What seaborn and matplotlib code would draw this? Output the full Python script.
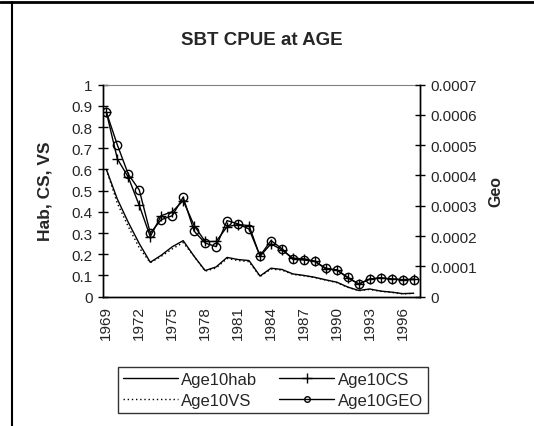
import numpy as np
import matplotlib
matplotlib.use('Agg')
import matplotlib.pyplot as plt
import seaborn as sns
from matplotlib.lines import Line2D

years = list(range(1969, 1998))
hab = [0.60, 0.46, 0.35, 0.25, 0.162, 0.195, 0.235, 0.264, 0.19, 0.123,
       0.14, 0.185, 0.175, 0.17, 0.097, 0.134, 0.128, 0.107, 0.10, 0.091,
       0.079, 0.068, 0.045, 0.029, 0.036, 0.026, 0.021, 0.014, 0.016]
vs = [0.60, 0.44, 0.33, 0.23, 0.16, 0.19, 0.225, 0.255, 0.19, 0.12,
      0.135, 0.18, 0.17, 0.165, 0.095, 0.13, 0.125, 0.105, 0.098, 0.09,
      0.078, 0.066, 0.044, 0.028, 0.034, 0.025, 0.02, 0.013, 0.015]
cs = [0.87, 0.65, 0.563, 0.43, 0.283, 0.382, 0.40, 0.453, 0.335, 0.26,
      0.26, 0.33, 0.34, 0.335, 0.19, 0.249, 0.22, 0.181, 0.178, 0.167,
      0.13, 0.126, 0.088, 0.06, 0.083, 0.088, 0.083, 0.08, 0.083]
geo = [0.000609, 0.000501, 0.000404, 0.000352, 0.00021, 0.000254, 0.000267,
       0.000328, 0.000216, 0.000177, 0.000165, 0.000251, 0.00024, 0.000223,
       0.000135, 0.000185, 0.000158, 0.000123, 0.000121, 0.000116, 0.000094,
       0.000088, 0.000064, 0.000041, 0.000058, 0.000062, 0.000058, 0.000056,
       0.000056]
left_ticks = [0, 0.1, 0.2, 0.3, 0.4, 0.5, 0.6, 0.7, 0.8, 0.9, 1]
left_labels = ['0', '0.1', '0.2', '0.3', '0.4', '0.5', '0.6', '0.7', '0.8', '0.9', '1']
right_ticks = [0, 0.0001, 0.0002, 0.0003, 0.0004, 0.0005, 0.0006, 0.0007]
right_labels = ['0', '0.0001', '0.0002', '0.0003', '0.0004', '0.0005', '0.0006', '0.0007']
label_years = years[::3]

sns.set_style('white')
plt.rcParams['font.family'] = ['Liberation Sans', 'DejaVu Sans']

fig = plt.figure(figsize=(5.34, 4.27), dpi=100)
ax = fig.add_axes([0.193, 0.303, 0.594, 0.4965])
ax2 = ax.twinx()

sns.lineplot(x=years, y=hab, ax=ax, color='black', lw=1, label='Age10hab')
sns.lineplot(x=years, y=vs, ax=ax, color='black', lw=1, linestyle=(0, (1, 2)), label='Age10VS')
sns.lineplot(x=years, y=cs, ax=ax, color='black', lw=1, marker='+', markersize=7,
             markeredgecolor='black', markeredgewidth=1, label='Age10CS')
sns.lineplot(x=years, y=geo, ax=ax2, color='black', lw=1, marker='o', markersize=6,
             markerfacecolor='none', markeredgecolor='black', markeredgewidth=1,
             label='Age10GEO')

ax.set_xlim(1968.7, 1997.6)
ax.set_ylim(0, 1)
ax2.set_ylim(0, 0.0007)

ax.set_yticks(left_ticks, labels=left_labels)
ax2.set_yticks(right_ticks, labels=right_labels)
ax.set_xticks(label_years, labels=[str(y) for y in label_years], rotation=90)
ax.set_xticks(np.arange(1968.7, 1997.7, 1.0), minor=True)

ax.tick_params(axis='x', which='major', length=0, pad=6, labelsize=11)
ax.tick_params(axis='x', which='minor', direction='inout', length=6, width=1, color='black')
ax.tick_params(axis='y', direction='inout', length=7, width=1, color='black',
               labelsize=11, pad=4, left=True)
ax2.tick_params(axis='y', direction='inout', length=7, width=1, color='black',
                labelsize=11, pad=4, right=True)

for a in (ax, ax2):
    for s in a.spines.values():
        s.set_color('black')
        s.set_linewidth(1)
ax.spines['top'].set_color('#808080')
ax.spines['top'].set_linewidth(0.8)
ax2.spines['top'].set_visible(False)

ax.set_xlabel('')
ax.set_ylabel('Hab, CS, VS', fontsize=12.5, fontweight='bold', labelpad=14)
ax2.set_ylabel('Geo', fontsize=11.5, fontweight='bold', labelpad=8)

fig.text(0.49, 0.906, 'SBT CPUE at AGE', ha='center', va='center',
         fontsize=13.5, fontweight='bold')

h1, l1 = ax.get_legend_handles_labels()
h2, l2 = ax2.get_legend_handles_labels()
ax.get_legend().remove()
ax2.get_legend().remove()
handles = dict(zip(l1 + l2, h1 + h2))
order = ['Age10hab', 'Age10VS', 'Age10CS', 'Age10GEO']
leg = fig.legend([handles[k] for k in order], order, ncol=2, loc='center',
                 bbox_to_anchor=(0.511, 0.0843), fontsize=12, frameon=True,
                 fancybox=False, edgecolor='black', handlelength=3.3,
                 handletextpad=0.2, columnspacing=1.3, borderpad=0.3,
                 labelspacing=0.35)
leg.get_frame().set_linewidth(1)
for lh in leg.legend_handles:
    if lh.get_marker() == 'o':
        lh.set_markersize(4)

fig.add_artist(Line2D([0, 1], [0.994, 0.994], color='black', lw=2, transform=fig.transFigure))
fig.add_artist(Line2D([0.022, 0.022], [0, 0.994], color='black', lw=1.5, transform=fig.transFigure))

fig.savefig('out.png', dpi=100)
